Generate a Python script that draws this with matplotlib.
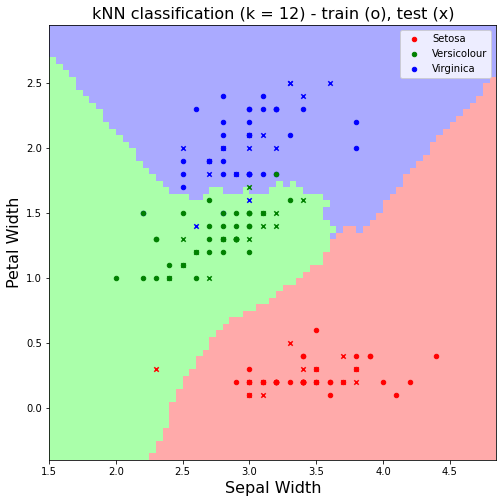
import numpy as np
import matplotlib
matplotlib.use("Agg")
import matplotlib.pyplot as plt
from matplotlib.colors import ListedColormap

class_names = ["Setosa", "Versicolour", "Virginica"]
k = 12
step = 0.05

# training samples (sepal width, petal width), repeated points kept
setosa_train_sw = [3.5, 3.5, 3.0, 3.0, 3.2, 3.2, 3.2, 3.2, 3.2, 3.1, 3.1, 3.6, 3.6,
                   3.9, 3.9, 3.4, 3.4, 3.4, 3.4, 3.4, 3.4, 2.9, 3.7, 3.0, 4.0, 4.4,
                   3.5, 3.8, 3.4, 3.4, 4.1, 4.2, 3.6, 3.5, 3.8, 3.0, 3.3]
setosa_train_pw = [0.2, 0.2, 0.2, 0.2, 0.2, 0.2, 0.2, 0.2, 0.2, 0.2, 0.2, 0.2, 0.2,
                   0.4, 0.4, 0.2, 0.2, 0.2, 0.2, 0.2, 0.2, 0.2, 0.2, 0.1, 0.2, 0.4,
                   0.3, 0.3, 0.4, 0.4, 0.1, 0.2, 0.1, 0.6, 0.4, 0.3, 0.2]
versi_train_sw = [3.1, 2.3, 2.3, 2.8, 2.8, 2.8, 3.3, 2.4, 2.9, 2.9, 2.9, 2.9, 2.9,
                  2.7, 2.0, 3.0, 3.0, 3.0, 2.2, 2.9, 2.2, 2.5, 3.2, 2.5, 2.8, 3.0,
                  3.0, 2.8, 2.9, 2.6, 2.4, 2.7, 2.7, 2.6, 2.3, 2.7, 3.0]
versi_train_pw = [1.5, 1.3, 1.3, 1.5, 1.3, 1.3, 1.6, 1.0, 1.3, 1.3, 1.3, 1.3, 1.3,
                  1.4, 1.0, 1.5, 1.5, 1.5, 1.0, 1.4, 1.5, 1.1, 1.8, 1.5, 1.2, 1.4,
                  1.4, 1.4, 1.5, 1.0, 1.1, 1.2, 1.6, 1.2, 1.0, 1.3, 1.2]
virg_train_sw = [2.7, 2.7, 3.0, 3.0, 2.9, 3.0, 2.5, 2.5, 2.8, 3.2, 3.2, 3.2, 3.0,
                 3.0, 3.0, 3.0, 3.8, 2.6, 2.2, 2.8, 3.3, 3.2, 2.8, 2.8, 2.8, 3.8,
                 2.8, 2.8, 3.0, 3.0, 3.1, 3.1, 3.1, 2.5, 3.4]
virg_train_pw = [1.9, 1.9, 2.1, 2.1, 1.8, 2.2, 1.7, 1.8, 2.4, 2.3, 2.3, 2.3, 1.8,
                 1.8, 1.8, 1.8, 2.2, 2.3, 1.5, 2.0, 2.1, 1.8, 1.8, 2.1, 1.9, 2.0,
                 2.2, 1.5, 2.3, 2.3, 1.8, 2.4, 2.3, 1.9, 2.3]

# test samples
setosa_test_sw = [3.5, 3.0, 3.1, 3.4, 3.1, 3.7, 3.0, 3.5, 3.8, 3.7, 3.3, 2.3, 3.8]
setosa_test_pw = [0.2, 0.2, 0.2, 0.3, 0.1, 0.2, 0.1, 0.3, 0.3, 0.4, 0.5, 0.3, 0.2]
versi_test_sw = [3.2, 3.2, 3.1, 2.8, 2.4, 3.1, 2.7, 2.5, 3.0, 3.4, 3.0, 2.5, 2.6]
versi_test_pw = [1.4, 1.5, 1.5, 1.3, 1.0, 1.4, 1.0, 1.1, 1.7, 1.6, 1.3, 1.3, 1.2]
virg_test_sw = [3.3, 3.3, 2.7, 3.0, 2.9, 3.6, 3.2, 2.5, 2.8, 2.7, 3.0, 2.6, 3.4, 3.1, 3.0]
virg_test_pw = [2.5, 2.5, 1.9, 2.1, 1.8, 2.5, 2.0, 2.0, 2.0, 1.8, 1.6, 1.4, 2.4, 2.1, 2.0]

light_colors = ['#FFAAAA', '#AAFFAA', '#AAAAFF']
bold_colors = ['r', 'g', 'b']

train_sw = [setosa_train_sw, versi_train_sw, virg_train_sw]
train_pw = [setosa_train_pw, versi_train_pw, virg_train_pw]
test_sw = [setosa_test_sw, versi_test_sw, virg_test_sw]
test_pw = [setosa_test_pw, versi_test_pw, virg_test_pw]

X_train = np.column_stack([np.concatenate(train_sw), np.concatenate(train_pw)])
y_train = np.concatenate([np.full(len(a), i) for i, a in enumerate(train_sw)])
all_sw = np.concatenate(train_sw + test_sw)
all_pw = np.concatenate(train_pw + test_pw)

# standardise on the training set
mu = X_train.mean(axis=0)
sd = X_train.std(axis=0)


def knn_predict(points, X, y, n_neighbors):
    '''
    kNN vote with inverse distance weights, on standardised features.
    '''
    P = (points - mu) / sd
    Xs = (X - mu) / sd
    d = np.sqrt(((P[:, None, :] - Xs[None, :, :]) ** 2).sum(axis=2))
    idx = np.argsort(d, axis=1, kind='stable')[:, :n_neighbors]
    w = 1.0 / np.maximum(np.take_along_axis(d, idx, axis=1), 1e-9)
    votes = np.stack([((y[idx] == c) * w).sum(axis=1) for c in range(3)], axis=1)
    return votes.argmax(axis=1)


# mesh, data bounds +/- 0.5
x_min, x_max = all_sw.min() - 0.5, all_sw.max() + 0.5
y_min, y_max = all_pw.min() - 0.5, all_pw.max() + 0.5
xs = x_min + step * np.arange(int(round((x_max - x_min) / step)))
ys = y_min + step * np.arange(int(round((y_max - y_min) / step)))
xx, yy = np.meshgrid(xs[:-1], ys[:-1])
Z = knn_predict(np.c_[xx.ravel(), yy.ravel()], X_train, y_train, k).reshape(xx.shape)

fig = plt.figure(figsize=(502 / 72, 503 / 72), dpi=72)
ax = fig.add_axes([0.098, 0.0855, 0.891, 0.865])
ax.pcolormesh(xs, ys, Z, cmap=ListedColormap(light_colors), shading='flat')

handles = []
for c in [0, 2, 1]:
    h = ax.scatter(train_sw[c], train_pw[c], c=bold_colors[c], marker='o', s=20)
    handles.append((c, h))
for c in range(3):
    ax.scatter(test_sw[c], test_pw[c], c=bold_colors[c], marker='x', s=20, linewidths=1.5)

handles = [h for c, h in sorted(handles, key=lambda t: t[0])]
ax.legend(handles, class_names, loc='upper right')
ax.set_xlim(xs.min(), xs.max())
ax.set_ylim(ys.min(), ys.max())
ax.set_title("kNN classification (k = %d) - train (o), test (x)" % k, fontsize=16)
ax.set_xlabel("Sepal Width", fontsize=16)
ax.set_ylabel("Petal Width", fontsize=16)

fig.savefig("out.png", dpi=72)
